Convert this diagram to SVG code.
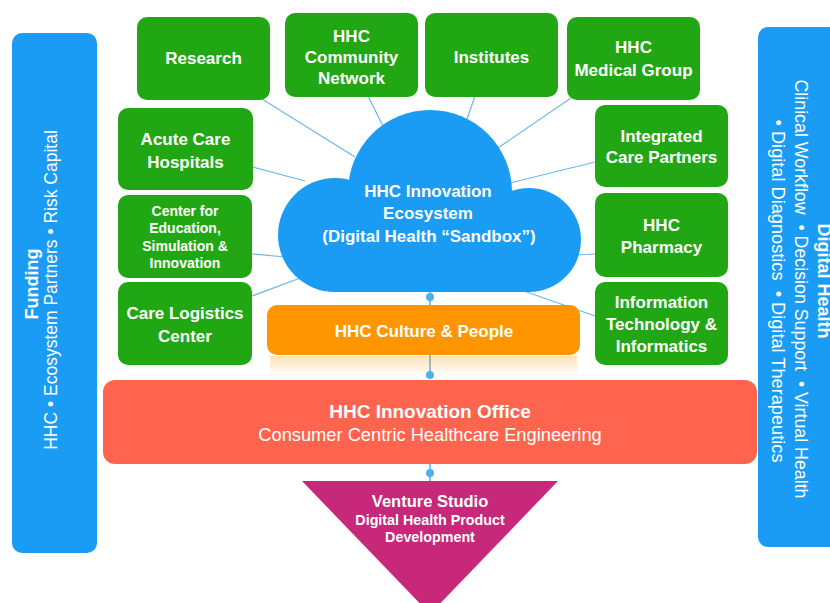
<svg xmlns="http://www.w3.org/2000/svg" width="830" height="603" viewBox="0 0 830 603">
<defs>
<linearGradient id="refl" x1="0" y1="0" x2="0" y2="1">
<stop offset="0" stop-color="#ff9500" stop-opacity="0.28"/>
<stop offset="1" stop-color="#ff9500" stop-opacity="0"/>
</linearGradient>
</defs>
<style>
text{font-family:"Liberation Sans",Arial,sans-serif;fill:#fff;text-anchor:middle}
.b{font-weight:bold}
.g{fill:#22a714}
.blue{fill:#1a9cf4}
.t17{font-size:17px;font-weight:bold}
.t14{font-size:14px;font-weight:bold}
.con{stroke:#6db8ec;stroke-width:1.2;fill:none}
.vc{stroke:#5cb3ec;stroke-width:1.6;fill:none}
.dot{fill:#4fb0f0}
</style>
<rect width="830" height="603" fill="#fff"/>

<g id="connectors">
<line class="con" x1="262" y1="99" x2="355" y2="157"/>
<line class="con" x1="368" y1="96" x2="383" y2="126"/>
<line class="con" x1="475" y1="96" x2="466" y2="122"/>
<line class="con" x1="571" y1="98" x2="495" y2="150"/>
<line class="con" x1="595" y1="162" x2="510" y2="183"/>
<line class="con" x1="253" y1="167" x2="305" y2="181"/>
<line class="con" x1="252" y1="254" x2="286" y2="257"/>
<line class="con" x1="252" y1="296" x2="303" y2="277"/>
<line class="con" x1="595" y1="254" x2="575" y2="255"/>
<line class="con" x1="595" y1="316" x2="524" y2="291"/>
<line class="vc" x1="430" y1="285" x2="430" y2="375"/>
<line class="vc" x1="430" y1="460" x2="430" y2="484"/>
<circle class="dot" cx="430" cy="297" r="4"/>
<circle class="dot" cx="430" cy="375" r="4"/>
<circle class="dot" cx="430" cy="473" r="4"/>
</g>

<g id="funding">
<rect class="blue" x="12" y="33" width="85" height="520" rx="10"/>
<text class="b" font-size="18" transform="translate(38,284) rotate(-90)">Funding</text>
<text font-size="17.5" transform="translate(57,290) rotate(-90)">HHC • Ecosystem Partners • Risk Capital</text>
</g>

<g id="digital-health">
<rect class="blue" x="758" y="27" width="100" height="520" rx="10"/>
<text class="b" font-size="18" transform="translate(818,281) rotate(90)">Digital Health</text>
<text font-size="17.8" transform="translate(795,289) rotate(90)">Clinical Workflow&#160; • Decision Support&#160; • Virtual Health</text>
<text font-size="18.2" transform="translate(772,291) rotate(90)">• Digital Diagnostics&#160; • Digital Therapeutics</text>
</g>

<g id="cloud">
<circle class="blue" cx="335" cy="235" r="57"/>
<circle class="blue" cx="430" cy="192" r="82"/>
<circle class="blue" cx="529" cy="240" r="52"/>
<rect class="blue" x="335" y="200" width="194" height="92"/>
<text class="t17" x="428" y="197">HHC Innovation</text>
<text class="t17" x="428" y="219">Ecosystem</text>
<text class="t17" x="429" y="242">(Digital Health “Sandbox”)</text>
</g>

<g id="research"><rect class="g" x="137" y="17" width="133" height="83" rx="10"/>
<text class="t17" x="203.5" y="64">Research</text></g>

<g id="community"><rect class="g" x="285" y="13" width="133" height="84" rx="10"/>
<text class="t17" x="351.5" y="42">HHC</text>
<text class="t17" x="351.5" y="63">Community</text>
<text class="t17" x="351.5" y="84">Network</text></g>

<g id="institutes"><rect class="g" x="425" y="13" width="133" height="84" rx="10"/>
<text class="t17" x="491.5" y="63">Institutes</text></g>

<g id="medical-group"><rect class="g" x="567" y="17" width="133" height="83" rx="10"/>
<text class="t17" x="633.5" y="53">HHC</text>
<text class="t17" x="633.5" y="76">Medical Group</text></g>

<g id="acute-care"><rect class="g" x="118" y="108" width="135" height="82" rx="10"/>
<text class="t17" x="185.5" y="145">Acute Care</text>
<text class="t17" x="185.5" y="168">Hospitals</text></g>

<g id="center-education"><rect class="g" x="118" y="195" width="134" height="83" rx="10"/>
<text class="t14" x="185" y="216">Center for</text>
<text class="t14" x="185" y="233">Education,</text>
<text class="t14" x="185" y="251">Simulation &amp;</text>
<text class="t14" x="185" y="268">Innovation</text></g>

<g id="care-logistics"><rect class="g" x="118" y="282" width="134" height="83" rx="10"/>
<text class="t17" x="185" y="319">Care Logistics</text>
<text class="t17" x="185" y="342">Center</text></g>

<g id="integrated-care"><rect class="g" x="595" y="105" width="133" height="82" rx="10"/>
<text class="t17" x="661.5" y="142">Integrated</text>
<text class="t17" x="661.5" y="163">Care Partners</text></g>

<g id="pharmacy"><rect class="g" x="595" y="193" width="133" height="84" rx="10"/>
<text class="t17" x="661.5" y="231">HHC</text>
<text class="t17" x="661.5" y="253">Pharmacy</text></g>

<g id="it-informatics"><rect class="g" x="595" y="282" width="133" height="83" rx="10"/>
<text class="t17" x="661.5" y="308">Information</text>
<text class="t17" x="661.5" y="330">Technology &amp;</text>
<text class="t17" x="661.5" y="352">Informatics</text></g>

<g id="culture">
<rect x="270" y="356" width="307" height="20" fill="url(#refl)"/>
<rect x="267" y="305" width="313" height="50" rx="10" fill="#ff9500"/>
<text class="t17" x="424" y="337">HHC Culture &amp; People</text>
</g>

<g id="innovation-office">
<rect x="103" y="380" width="654" height="84" rx="12" fill="#ff644f"/>
<text class="b" font-size="19" x="430" y="418">HHC Innovation Office</text>
<text font-size="18.3" x="430" y="441">Consumer Centric Healthcare Engineering</text>
</g>

<g id="venture-studio">
<polygon points="302,481 558,481 430,614" fill="#c8287a"/>
<text class="b" font-size="16.5" x="430" y="507">Venture Studio</text>
<text class="b" font-size="14.3" x="430" y="525">Digital Health Product</text>
<text class="b" font-size="14.3" x="430" y="542">Development</text>
</g>
</svg>
